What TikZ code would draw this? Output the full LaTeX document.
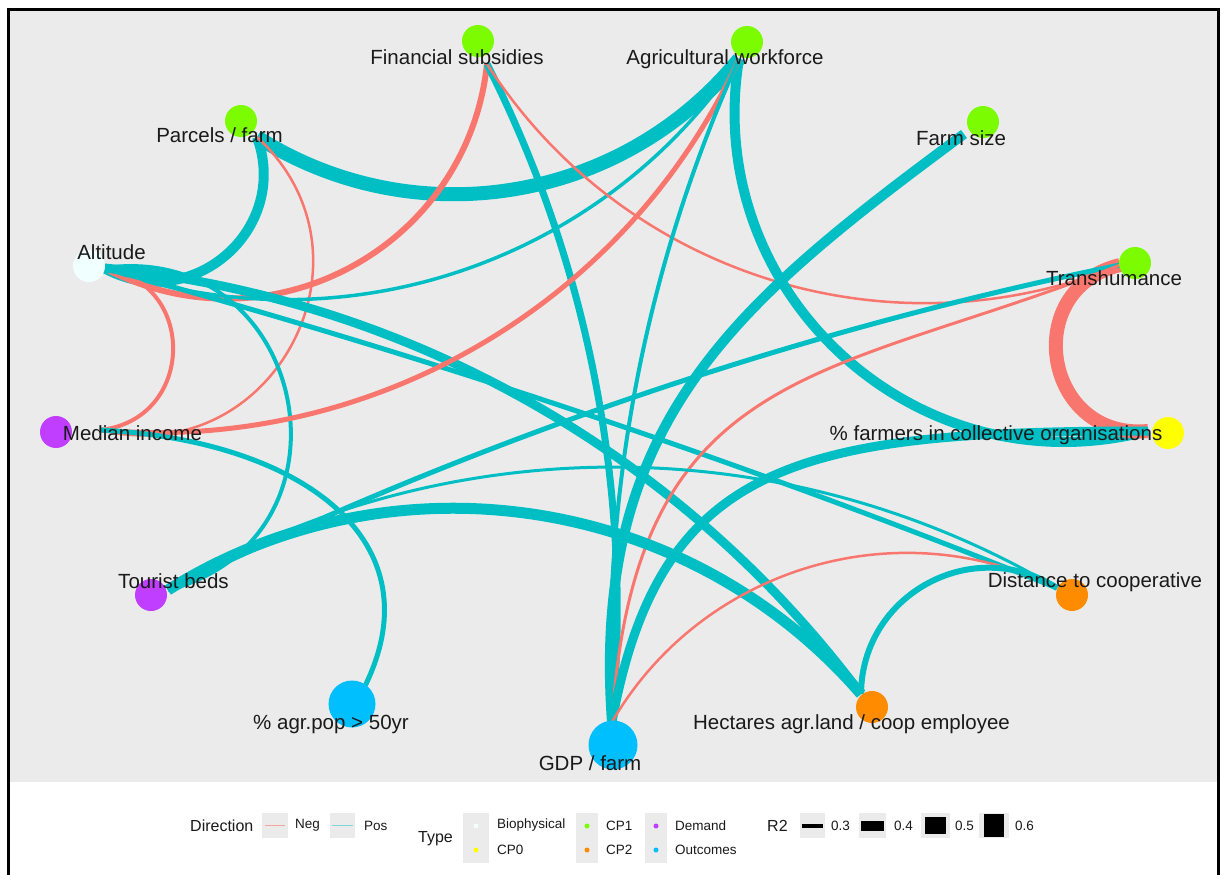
\documentclass[tikz,border=0pt]{standalone}
\usepackage{fontspec}
\setmainfont{Liberation Sans}
\usetikzlibrary{calc}
\definecolor{pos}{HTML}{00BFC4}
\definecolor{neg}{HTML}{F8766D}
\definecolor{panel}{HTML}{EBEBEB}
\definecolor{cpone}{HTML}{7CFC00}
\definecolor{cpzero}{HTML}{FFFF00}
\definecolor{cptwo}{HTML}{FF8C00}
\definecolor{demand}{HTML}{BF3EFF}
\definecolor{outc}{HTML}{00BFFF}
\definecolor{bio}{HTML}{F0FFFF}
\definecolor{labc}{HTML}{1A1A1A}
\definecolor{negkey}{HTML}{F2A59E}
\definecolor{poskey}{HTML}{7FD6D9}
\tikzset{
  posl/.style={draw=pos,line cap=butt},
  negl/.style={draw=neg,line cap=butt},
  dot/.style={circle,inner sep=0pt,minimum size=32pt,draw=none},
  bigdot/.style={dot,minimum size=48pt},
  lab/.style={font=\fontsize{20.5}{24}\selectfont,text=labc,inner sep=0pt,anchor=base},
  ltitle/.style={font=\fontsize{16}{19}\selectfont,text=labc,inner sep=0pt,anchor=west},
  ltext/.style={font=\fontsize{13.5}{16}\selectfont,text=labc,inner sep=0pt,anchor=west},
  keybg/.style={fill=panel,draw=none},
  ldot/.style={circle,inner sep=0pt,minimum size=5pt,draw=none},
}
\begin{document}
\begin{tikzpicture}[x=1pt,y=-1pt]
\useasboundingbox (0,0) rectangle (1221,875);
\fill[white] (0,0) rectangle (1221,875);
% panel
\fill[panel] (10,11) rectangle (1217,782);
% frame
\draw[black,line width=3pt] (8.5,875) -- (8.5,9.5) -- (1218.5,9.5) -- (1218.5,875);

% edge anchor points
\coordinate (FS) at (487,64);
\coordinate (AW) at (739,59);
\coordinate (PF) at (257,137);
\coordinate (FZ) at (964,134);
\coordinate (AL) at (104,268);
\coordinate (TR) at (1120,265);
\coordinate (PC) at (1148,431);
\coordinate (MI) at (100,430);
\coordinate (TB) at (168,590);
\coordinate (DC) at (1057,588);
\coordinate (AP) at (363,690);
\coordinate (HA) at (861,694);
\coordinate (GD) at (612,722);

% edges
\draw[posl,line width=10pt] (PF) to[bend left=69.4,looseness=1.26] (AL);
\draw[posl,line width=14pt] (PF) to[bend right=41.6,looseness=0.975] (AW);
\draw[negl,line width=2.5pt] (PF) to[bend left=75.6,looseness=1.364] (MI);
\draw[negl,line width=6pt] (AL) to[bend right=55.9,looseness=1.092] (FS);
\draw[posl,line width=3.5pt] (AL) to[bend right=37.9,looseness=0.952] (AW);
\draw[negl,line width=4pt] (AL) to[bend left=82.6,looseness=1.508] (MI);
\draw[posl,line width=4pt] (AL) to[bend left=86.7,looseness=1.61] (TB);
\draw[posl,line width=9pt] (AL) to[bend left=23.9,looseness=0.889] (HA);
\draw[posl,line width=5pt] (AL) to[bend left=3.4,looseness=0.852] (DC);
\draw[posl,line width=7pt] (FS) to[bend left=16.1,looseness=0.868] (GD);
\draw[negl,line width=2.5pt] (FS) to[bend right=39.7,looseness=0.962] (TR);
\draw[posl,line width=10pt] (AW) to[bend right=57,looseness=1.103] (PC);
\draw[negl,line width=5pt] (AW) to[bend left=35.3,looseness=0.937] (MI);
\draw[posl,line width=4pt] (AW) to[bend right=13.5,looseness=0.863] (GD);
\draw[posl,line width=10pt] (FZ) .. controls (740,300) and (590,420) .. (GD);
\draw[negl,line width=14pt] (TR) to[bend right=85.8,looseness=1.585] (PC);
\draw[posl,line width=5pt] (TR) to[bend right=7.3,looseness=0.855] (TB);
\draw[negl,line width=3pt] (TR) .. controls (830,380) and (635,360) .. (GD);
\draw[posl,line width=5pt] (MI) .. controls (300,440) and (440,540) .. (AP);
\draw[posl,line width=11pt] (TB) to[bend left=40.6,looseness=0.968] (HA);
\draw[posl,line width=3pt] (TB) to[bend left=30.7,looseness=0.915] (DC);
\draw[posl,line width=9pt] (GD) .. controls (660,460) and (800,431) .. (PC);
\draw[negl,line width=2.5pt] (GD) to[bend left=43.1,looseness=0.984] (DC);
\draw[posl,line width=6pt] (HA) to[bend left=61.2,looseness=1.149] (DC);

% node points
\node[dot,fill=cpone] (FSd) at (478,41) {};
\node[dot,fill=cpone] (AWd) at (747,42) {};
\node[dot,fill=cpone] (PFd) at (241,121) {};
\node[dot,fill=cpone] (FZd) at (983,122) {};
\node[dot,fill=bio] (ALd) at (89,266) {};
\node[dot,fill=cpone] (TRd) at (1135,263) {};
\node[dot,fill=cpzero] (PCd) at (1168,433) {};
\node[dot,fill=demand] (MId) at (56,432) {};
\node[dot,fill=demand] (TBd) at (151,595) {};
\node[dot,fill=cptwo] (DCd) at (1072,595) {};
\node[bigdot,fill=outc,minimum size=47pt] (APd) at (352,704) {};
\node[dot,fill=cptwo] (HAd) at (872,707) {};
\node[bigdot,fill=outc,minimum size=49pt] (GDd) at (613,745) {};

% labels
\node[lab] (FSl) at (457,64) {Financial subsidies};
\node[lab] (AWl) at (725,64) {Agricultural workforce};
\node[lab] (PFl) at (219.5,142) {Parcels / farm};
\node[lab] (FZl) at (961,145) {Farm size};
\node[lab] (ALl) at (111.5,259) {Altitude};
\node[lab] (TRl) at (1114,285) {Transhumance};
\node[lab] (PCl) at (996,440) {\% farmers in collective organisations};
\node[lab] (MIl) at (132.5,440) {Median income};
\node[lab] (TBl) at (173.5,588) {Tourist beds};
\node[lab] (DCl) at (1095,587) {Distance to cooperative};
\node[lab] (APl) at (331,729) {\% agr.pop > 50yr};
\node[lab] (HAl) at (851.5,729) {Hectares agr.land / coop employee};
\node[lab] (GDl) at (590,770) {GDP / farm};

% legend: Direction
\node[ltitle] (dirt) at (190,826) {Direction};
\fill[keybg] (262,813) rectangle (288,838);
\draw[draw=negkey,line width=1.6pt] (265,825.5) -- (285,825.5);
\node[ltext] (negt) at (295,825.5) {Neg};
\fill[keybg] (330,813) rectangle (355,838);
\draw[draw=poskey,line width=1.6pt] (332,825.5) -- (353,825.5);
\node[ltext] (post) at (364,825.5) {Pos};

% legend: Type
\node[ltitle] (typet) at (418,839) {Type};
\fill[keybg] (463,813) rectangle (489,863);
\fill[keybg] (576,813) rectangle (598,863);
\fill[keybg] (645,813) rectangle (667,863);
\node[ldot,fill=bio] (k1) at (476,826) {};
\node[ldot,fill=cpzero] (k2) at (476,850) {};
\node[ldot,fill=cpone] (k3) at (587,826) {};
\node[ldot,fill=cptwo] (k4) at (587,850) {};
\node[ldot,fill=demand] (k5) at (656,826) {};
\node[ldot,fill=outc] (k6) at (656,850) {};
\node[ltext] (t1) at (497,825.5) {Biophysical};
\node[ltext] (t2) at (497,850) {CP0};
\node[ltext] (t3) at (606,825.5) {CP1};
\node[ltext] (t4) at (606,850) {CP2};
\node[ltext] (t5) at (675,825.5) {Demand};
\node[ltext] (t6) at (675,850) {Outcomes};

% legend: R2
\node[ltitle] (r2t) at (767,826) {R2};
\fill[keybg] (800,813) rectangle (825,838);
\fill[black] (802,824) rectangle (823,827.5);
\node[ltext] (r1) at (831,825.5) {0.3};
\fill[keybg] (859,813) rectangle (886,838);
\fill[black] (861,820.5) rectangle (884,831);
\node[ltext] (r2) at (894,825.5) {0.4};
\fill[keybg] (921,813) rectangle (950,838);
\fill[black] (925,817) rectangle (946,834);
\node[ltext] (r3) at (955,825.5) {0.5};
\fill[keybg] (979,813) rectangle (1009,838);
\fill[black] (984,814) rectangle (1004,837);
\node[ltext] (r4) at (1015,825.5) {0.6};
\end{tikzpicture}
\end{document}
